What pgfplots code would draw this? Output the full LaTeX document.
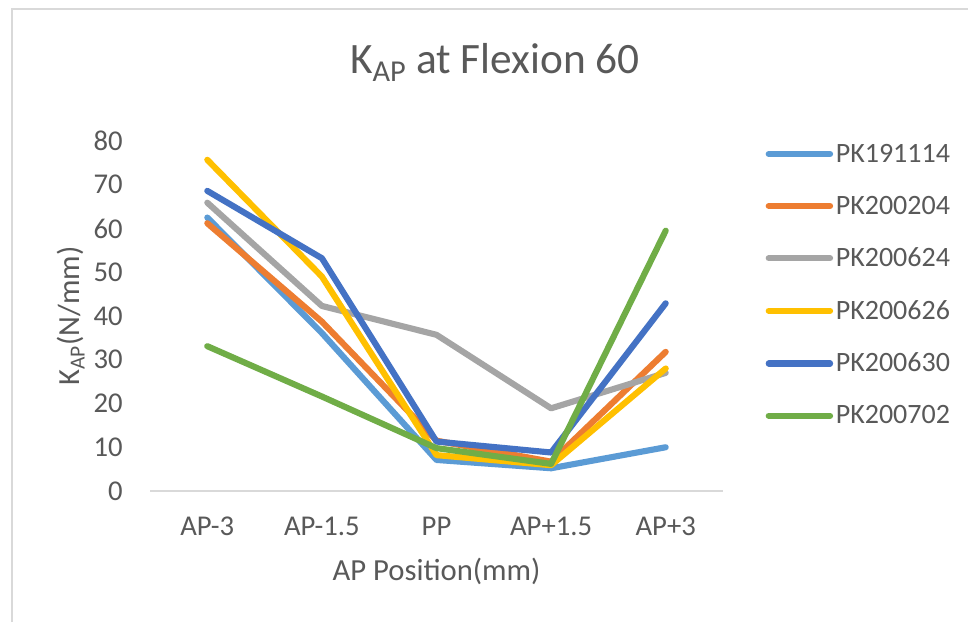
\documentclass[border=0pt]{standalone}
\usepackage{fontspec}
\setmainfont{Carlito}
\usepackage{pgfplots}
\pgfplotsset{compat=1.18}
\usepackage{pgfplotstable}

\definecolor{txt}{HTML}{595959}
\definecolor{frame}{HTML}{D9D9D9}
\definecolor{sA}{HTML}{5B9BD5}
\definecolor{sB}{HTML}{ED7D31}
\definecolor{sC}{HTML}{A5A5A5}
\definecolor{sD}{HTML}{FFC000}
\definecolor{sE}{HTML}{4472C4}
\definecolor{sF}{HTML}{70AD47}

% stiffness K_AP (N/mm) per AP position: AP-3, AP-1.5, PP, AP+1.5, AP+3
\pgfplotstableread{
x  a     b     c     d     e     f
0  62.5  61.2  65.9  75.7  68.6  33.1
1  36.1  38.7  42.3  49.0  53.2  21.6
2  7.1   11.5  35.7  8.2   11.3  9.8
3  5.2   6.7   18.9  5.9   8.8   6.2
4  10.0  31.8  27.0  28.0  42.9  59.5
}\kap

\begin{document}
\begin{tikzpicture}[x=0.75pt,y=0.75pt]
\useasboundingbox (0,0) rectangle (968,622);
\fill[white] (0,0) rectangle (968,622);
% chart area border
\draw[frame, line width=1.5pt] (11.5,0) -- (11.5,613) -- (968,613);

\node[txt, font=\fontsize{32.5}{36}\selectfont] at (495,560) {K\textsubscript{AP} at Flexion 60};

\begin{axis}[
  at={(112.5pt,98.25pt)}, anchor=south west,
  scale only axis, width=429.75pt, height=262.5pt,
  xmin=-0.5, xmax=4.5, ymin=0, ymax=80,
  xtick={0,1,2,3,4},
  xticklabels={AP-3,AP-1.5,PP,AP+1.5,AP+3},
  ytick={0,10,...,80},
  axis x line*=bottom, axis y line*=left,
  x axis line style={draw=frame, line width=1.1pt},
  y axis line style={draw=none},
  tick style={draw=none},
  /pgf/number format/assume math mode=true,
  ticklabel style={font=\fontsize{21.5}{25}\selectfont, text=txt},
  xticklabel style={yshift=-16pt},
  yticklabel style={xshift=-17pt},
  xlabel={AP Position(mm)},
  ylabel={K\textsubscript{AP}(N/mm)},
  label style={font=\fontsize{23}{27}\selectfont, text=txt},
  xlabel style={at={(axis description cs:0.5,-0.231)}, anchor=center},
  ylabel style={at={(axis description cs:-0.138,0.5)}, anchor=center, rotate=0},
  clip=false,
  every axis plot/.append style={line width=4.6pt, line join=round, line cap=round},
  legend image code/.code={\draw[#1, line cap=round] (0pt,0pt) -- (46pt,0pt);},
  legend style={at={(1.074,1.0)}, anchor=north west, draw=none, fill=none,
    font=\fontsize{21}{25}\selectfont, text=txt, row sep=19.8pt,
    inner sep=0pt, cells={anchor=west}},
  legend cell align=left,
]
\addplot[sA] table[x=x,y=a] {\kap}; \addlegendentry{PK191114}
\addplot[sB] table[x=x,y=b] {\kap}; \addlegendentry{PK200204}
\addplot[sC] table[x=x,y=c] {\kap}; \addlegendentry{PK200624}
\addplot[sD] table[x=x,y=d] {\kap}; \addlegendentry{PK200626}
\addplot[sE] table[x=x,y=e] {\kap}; \addlegendentry{PK200630}
\addplot[sF] table[x=x,y=f] {\kap}; \addlegendentry{PK200702}
\end{axis}
\end{tikzpicture}
\end{document}
